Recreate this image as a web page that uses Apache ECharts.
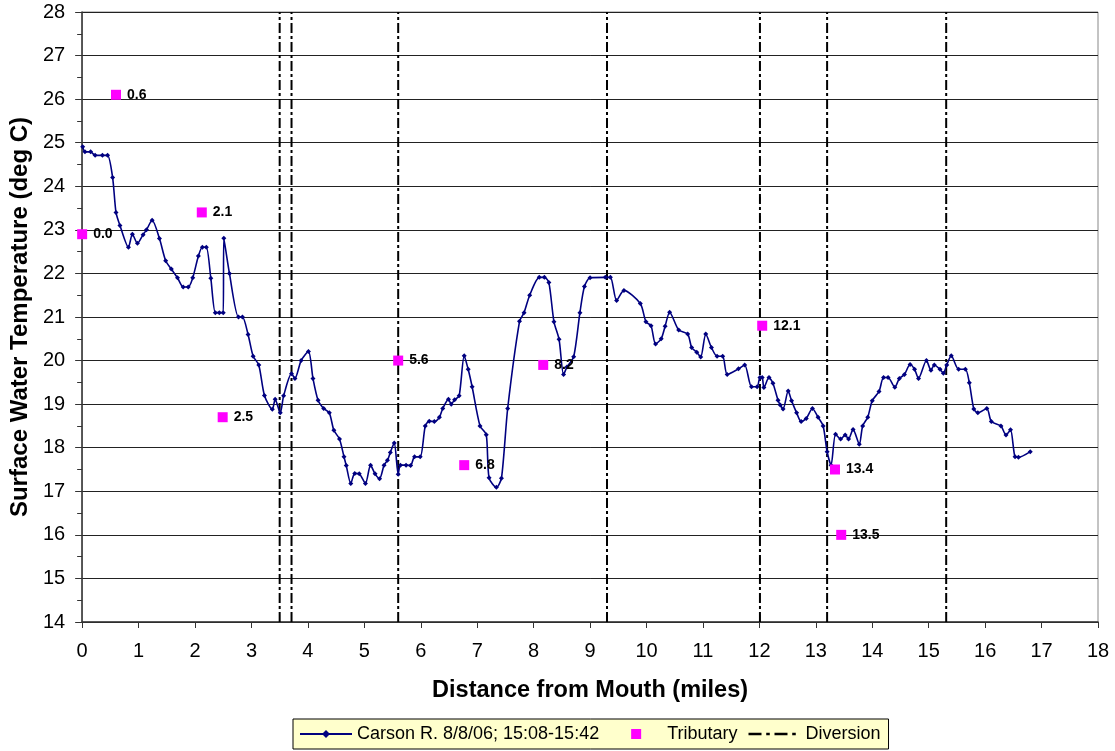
<!DOCTYPE html>
<html>
<head>
<meta charset="utf-8">
<script src="https://cdn.jsdelivr.net/npm/echarts@6/dist/echarts.min.js"></script>
<style>html,body{margin:0;padding:0;background:#fff;}#c{width:1115px;height:751px;}</style>
</head>
<body>
<div id="c"></div>
<script>
// Carson River surface water temperature profile
const riverX = [0.01,0.05,0.15,0.23,0.36,0.45,0.54,0.60,0.67,0.82,0.89,0.98,1.08,1.14,1.24,1.37,1.48,1.58,1.69,1.79,1.88,1.96,2.06,2.13,2.20,2.28,2.36,2.43,2.50,2.51,2.61,2.77,2.84,2.94,3.03,3.13,3.23,3.37,3.42,3.51,3.57,3.71,3.77,3.88,4.01,4.09,4.18,4.28,4.38,4.46,4.56,4.64,4.68,4.76,4.83,4.91,5.02,5.11,5.19,5.27,5.35,5.41,5.46,5.53,5.60,5.64,5.74,5.82,5.89,5.99,6.08,6.15,6.24,6.33,6.39,6.49,6.54,6.60,6.68,6.77,6.84,6.91,7.05,7.16,7.21,7.34,7.43,7.54,7.75,7.83,7.93,8.10,8.19,8.27,8.36,8.45,8.53,8.59,8.71,8.82,8.90,9.00,9.27,9.36,9.47,9.60,9.89,9.99,10.08,10.16,10.26,10.33,10.41,10.57,10.73,10.80,10.89,10.96,11.05,11.15,11.25,11.35,11.43,11.63,11.74,11.86,11.96,12.01,12.05,12.08,12.17,12.24,12.33,12.37,12.42,12.51,12.57,12.66,12.74,12.83,12.94,13.04,13.13,13.20,13.27,13.35,13.44,13.52,13.58,13.66,13.77,13.83,13.92,14.00,14.12,14.20,14.28,14.40,14.48,14.57,14.67,14.75,14.82,14.96,15.04,15.10,15.20,15.26,15.32,15.40,15.53,15.65,15.72,15.80,15.87,16.03,16.11,16.28,16.37,16.45,16.53,16.59,16.80];
const riverTemp = [24.91,24.79,24.79,24.71,24.71,24.71,24.2,23.4,23.1,22.6,22.9,22.69,22.89,23.0,23.22,22.8,22.29,22.1,21.9,21.69,21.69,21.9,22.4,22.6,22.6,21.89,21.1,21.1,21.1,22.81,22.0,21.0,21.0,20.6,20.1,19.9,19.2,18.88,19.11,18.8,19.19,19.7,19.59,20.0,20.21,19.59,19.09,18.9,18.8,18.4,18.2,17.79,17.59,17.18,17.41,17.4,17.18,17.6,17.4,17.29,17.6,17.71,17.89,18.11,17.39,17.6,17.6,17.59,17.79,17.79,18.5,18.61,18.6,18.7,18.9,19.11,19.0,19.1,19.19,20.11,19.8,19.4,18.5,18.3,17.31,17.09,17.3,18.9,20.9,21.1,21.5,21.91,21.91,21.79,20.89,20.49,19.68,19.85,20.09,21.1,21.7,21.9,21.91,21.91,21.38,21.61,21.31,20.89,20.8,20.38,20.5,20.79,21.11,20.7,20.61,20.3,20.19,20.08,20.61,20.3,20.1,20.1,19.68,19.81,19.9,19.4,19.4,19.61,19.61,19.38,19.61,19.48,19.09,18.98,18.89,19.3,19.08,18.8,18.6,18.67,18.9,18.7,18.5,17.91,17.6,18.31,18.2,18.29,18.2,18.42,18.08,18.5,18.7,19.08,19.29,19.61,19.61,19.39,19.59,19.68,19.91,19.8,19.59,20.0,19.78,19.9,19.8,19.71,19.9,20.11,19.8,19.8,19.49,18.89,18.8,18.9,18.6,18.5,18.29,18.41,17.79,17.78,17.91];

const tribX = [0.0,0.6,2.12,2.49,5.6,6.77,8.17,12.05,13.34,13.45];
const tribTemp = [22.9,26.1,23.4,18.7,20.0,17.6,19.9,20.8,17.5,16.0];
const tribLabels = ['0.0','0.6','2.1','2.5','5.6','6.8','8.2','12.1','13.4','13.5'];

const diversionX = [3.5,3.71,5.6,9.3,12.01,13.2,15.31];

const xTicks = {min:0, max:18, interval:1};
const yTicks = {min:14, max:28, interval:1};

const FONT = 'Liberation Sans, Arial, sans-serif';
const chart = echarts.init(document.getElementById('c'), null, {renderer:'canvas'});

const divSeries = diversionX.map(d => ({
  name:'Diversion', type:'line', data:[[d,yTicks.min],[d,yTicks.max]],
  symbol:'none', silent:true, z:3,
  lineStyle:{color:'#000', width:2, type:[10,3,3,3]},
  itemStyle:{color:'#000'}
}));

chart.setOption({
  animation:false,
  backgroundColor:'#fff',
  grid:{left:82, right:17, top:12, bottom:129, show:true, borderColor:'#888', borderWidth:1},
  legend:{
    left:293, top:719,
    backgroundColor:'#FFFFCC', borderColor:'#000', borderWidth:1,
    padding:[6,8,6,6], itemGap:11, itemWidth:52, itemHeight:10,
    textStyle:{fontFamily:FONT, fontSize:18, color:'#000'},
    data:[
      {name:'Carson R. 8/8/06; 15:08-15:42'},
      {name:'Tributary', icon:'path://M0,5h0.01v0.01h-0.01z M21,0h10v10h-10z M52,5h0.01v0.01h-0.01z', itemStyle:{color:'#FF00FF', opacity:1}},
      {name:'Diversion', icon:'path://M0,0h11v2h-11z M15,0h3v2h-3z M22,0h11v2h-11z M37,0h3v2h-3z M44,0h0.01v2h-0.01z', itemStyle:{color:'#000'}}
    ]
  },
  xAxis:{
    type:'value', min:xTicks.min, max:xTicks.max, interval:xTicks.interval,
    name:'Distance from Mouth (miles)', nameLocation:'middle', nameGap:57,
    nameTextStyle:{fontFamily:FONT, fontSize:23.5, fontWeight:'bold', color:'#000'},
    axisLine:{show:true, lineStyle:{color:'#333', width:1.5}},
    axisTick:{show:true, inside:false, length:6, lineStyle:{color:'#333'}},
    axisLabel:{fontFamily:FONT, fontSize:20, color:'#000', margin:19},
    splitLine:{show:false}
  },
  yAxis:{
    type:'value', min:yTicks.min, max:yTicks.max, interval:yTicks.interval,
    name:'Surface Water Temperature (deg C)', nameLocation:'middle', nameGap:46, nameRotate:90,
    nameTextStyle:{fontFamily:FONT, fontSize:24, fontWeight:'bold', color:'#000'},
    axisLine:{show:true, lineStyle:{color:'#333', width:1.5}},
    axisTick:{show:true, inside:false, length:7, lineStyle:{color:'#333'}},
    minorTick:{show:true, splitNumber:2, length:5, lineStyle:{color:'#333'}},
    axisLabel:{fontFamily:FONT, fontSize:20, color:'#000', margin:17},
    splitLine:{show:true, lineStyle:{color:'#222', width:1}}
  },
  series:[
    {
      name:'Carson R. 8/8/06; 15:08-15:42', type:'line', z:5,
      data: riverX.map((x,i)=>[x, riverTemp[i]]),
      smooth:0.25,
      symbol:'diamond', symbolSize:5, showSymbol:true,
      lineStyle:{color:'#000080', width:1.6},
      itemStyle:{color:'#000080'}
    },
    {
      name:'Tributary', type:'scatter', z:6,
      data: tribX.map((x,i)=>({value:[x, tribTemp[i]], name:tribLabels[i]})),
      symbol:'rect', symbolSize:10,
      itemStyle:{color:'#FF00FF', opacity:1},
      label:{show:true, position:'right', distance:6, formatter:p=>p.name,
        fontFamily:FONT, fontSize:14, fontWeight:'bold', color:'#000'}
    }
  ].concat(divSeries)
});
</script>
</body>
</html>
